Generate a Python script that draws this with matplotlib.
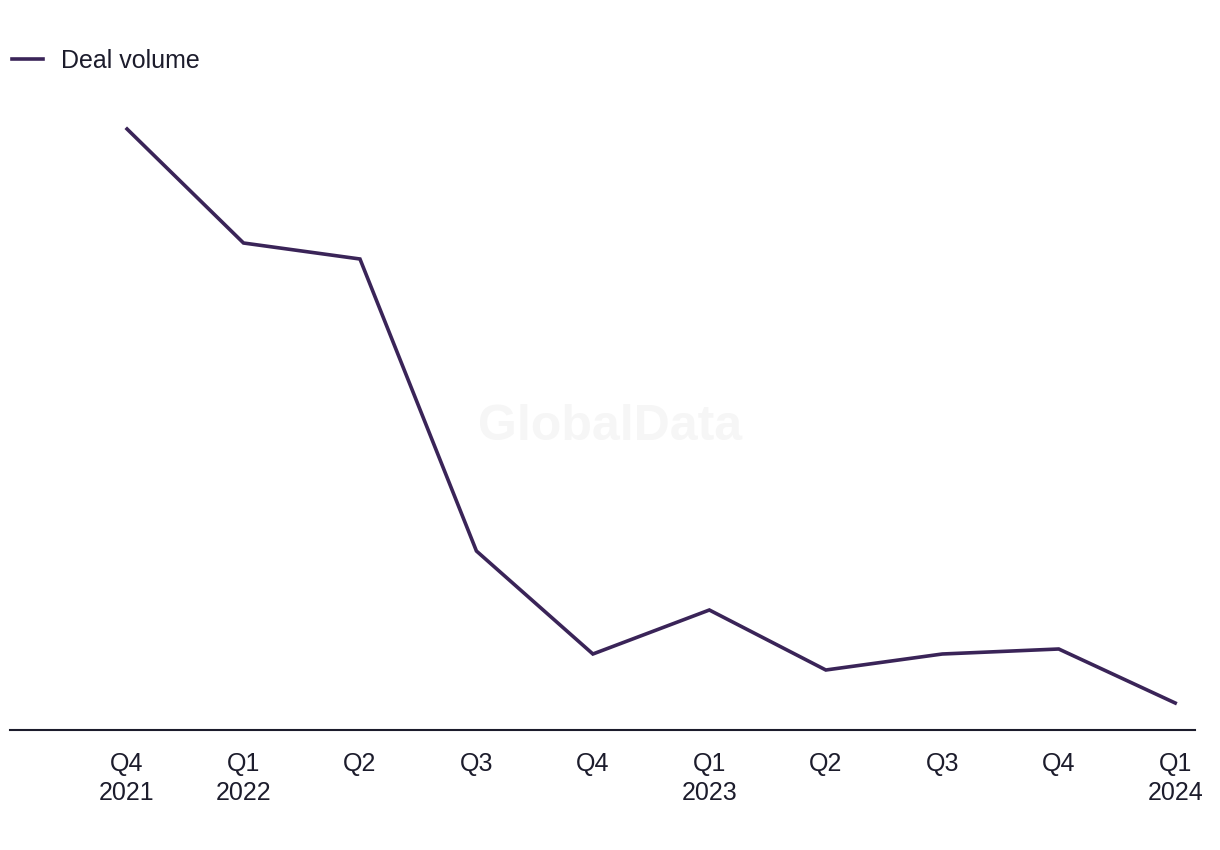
import matplotlib.pyplot as plt
import numpy as np

# deal volume by quarter (no y-axis in the source)
quarters = ["Q4\n2021", "Q1\n2022", "Q2", "Q3", "Q4", "Q1\n2023", "Q2", "Q3", "Q4", "Q1\n2024"]
deal_volume = [601, 487, 471, 179, 76, 120, 60, 76, 81, 27]

LINE_COLOR = "#3a2458"
TEXT_COLOR = "#1c1c2c"

plt.rcParams.update({
    "font.family": ["Liberation Sans", "DejaVu Sans"],
    "font.size": 18,
    "text.color": TEXT_COLOR,
})

fig = plt.figure(figsize=(12.2, 8.5), dpi=100)
ax = fig.add_axes([10 / 1220, 120 / 850, 1185 / 1220, 630 / 850])

x = np.arange(len(quarters))
ax.plot(x, deal_volume, color=LINE_COLOR, lw=2.6, solid_joinstyle="miter",
        label="Deal volume")

ax.set_xlim(-1.005, 9.17)
ax.set_ylim(0, 630)
ax.set_xticks(x)
ax.set_xticklabels(quarters, linespacing=1.25)
ax.set_yticks([])
ax.tick_params(axis="x", length=0, pad=16, labelsize=18, labelcolor=TEXT_COLOR)

for side in ("top", "right", "left"):
    ax.spines[side].set_visible(False)
ax.spines["bottom"].set_color(TEXT_COLOR)
ax.spines["bottom"].set_linewidth(1.5)

# watermark
fig.text(610 / 1220, 1 - 427 / 850, "GlobalData", ha="center", va="center",
         fontsize=36, fontweight="bold", color="#f6f6f6", zorder=0)

fig.legend(loc="center left", bbox_to_anchor=(12 / 1220, 1 - 61 / 850),
           frameon=False, borderpad=0, borderaxespad=0,
           handlelength=1.25, handletextpad=0.72, fontsize=18)

fig.savefig("out.png", dpi=100)
